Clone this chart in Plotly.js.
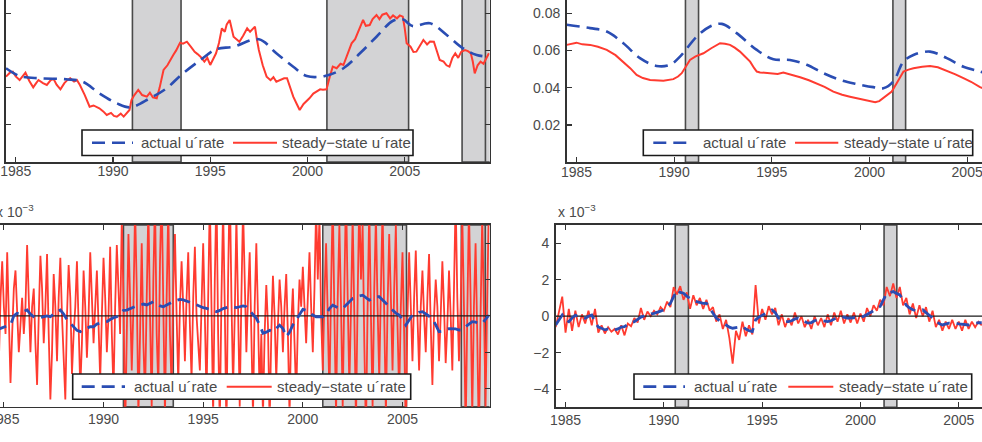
<!DOCTYPE html>
<html>
<head>
<meta charset="utf-8">
<script src="https://cdn.plot.ly/plotly-3.0.1.min.js"></script>
<style>
  html, body { margin: 0; padding: 0; width: 982px; height: 442px; overflow: hidden; background: #fff; }
  #fig { position: absolute; left: -20px; top: -40px; width: 1100px; height: 470px; }
</style>
</head>
<body>
<div id="fig"></div>
<script>
// ---------------- data ----------------
const seriesNames = ['actual u\u00B4rate', 'steady\u2212state u\u00B4rate'];
const yearTicks = [1985, 1990, 1995, 2000, 2005];
const xRange = [1984.5, 2009.37];
const sampleEnd = 2009.15;
const zeroLevel = 0;

// shaded periods
const recessionsLeft = [[1991.0, 1993.5], [2001.0, 2005.2], [2007.95, 2009.5]];
const recessionsRight = [[1990.58, 1991.25], [2001.2, 2001.85], [2007.92, 2009.5]];

// panel 1 (upper left)
const p1ActualYears = [1984.5, 1985.2, 1986.25, 1987.6, 1988.45, 1989.3, 1990.2, 1990.88, 1991.9, 1992.76,
  1993.5, 1994.5, 1995.3, 1996.2, 1997.5, 1998.4, 1999.27, 1999.96, 2000.9, 2001.85,
  2002.7, 2003.55, 2004.4, 2004.9, 2005.4, 2006.3, 2007.16, 2008.0, 2008.7, 2009.33];
const p1Actual = [0.02760, 0.02656, 0.02625, 0.02612, 0.02579, 0.02423, 0.02289, 0.02235, 0.02356, 0.02491,
  0.02669, 0.02871, 0.03015, 0.03050, 0.03149, 0.02961, 0.02781, 0.02656, 0.02656, 0.02760,
  0.02961, 0.03184, 0.03399, 0.03418, 0.03328, 0.03364, 0.03207, 0.03028, 0.02938, 0.02915];

const p1SteadyYears = [1984.50, 1984.70, 1984.85, 1985.00, 1985.20, 1985.35, 1985.50, 1985.70, 1985.90, 1986.05,
  1986.17, 1986.40, 1986.60, 1986.80, 1986.95, 1987.10, 1987.30, 1987.50, 1987.65, 1987.80,
  1988.00, 1988.15, 1988.30, 1988.55, 1988.80, 1989.00, 1989.30, 1989.50, 1989.68, 1989.90,
  1990.05, 1990.20, 1990.40, 1990.55, 1990.70, 1990.85, 1990.95, 1991.10, 1991.30, 1991.50,
  1991.74, 1991.90, 1992.05, 1992.25, 1992.40, 1992.60, 1992.80, 1992.95, 1993.10, 1993.25,
  1993.45, 1993.60, 1993.80, 1994.00, 1994.20, 1994.35, 1994.50, 1994.70, 1994.85, 1995.00,
  1995.15, 1995.30, 1995.45, 1995.60, 1995.75, 1995.85, 1996.00, 1996.10, 1996.20, 1996.35,
  1996.50, 1996.70, 1996.90, 1997.05, 1997.20, 1997.30, 1997.40, 1997.50, 1997.70, 1997.90,
  1998.10, 1998.25, 1998.40, 1998.60, 1998.80, 1998.95, 1999.10, 1999.27, 1999.45, 1999.60,
  1999.80, 2000.00, 2000.10, 2000.30, 2000.50, 2000.65, 2000.80, 2000.98, 2001.15, 2001.30,
  2001.50, 2001.70, 2001.85, 2002.05, 2002.27, 2002.45, 2002.60, 2002.75, 2002.86, 2003.00,
  2003.20, 2003.35, 2003.55, 2003.70, 2003.85, 2004.06, 2004.25, 2004.40, 2004.60, 2004.75,
  2004.90, 2005.00, 2005.10, 2005.30, 2005.45, 2005.60, 2005.80, 2005.96, 2006.15, 2006.30,
  2006.50, 2006.65, 2006.80, 2007.00, 2007.15, 2007.30, 2007.45, 2007.60, 2007.75, 2007.90,
  2008.10, 2008.25, 2008.40, 2008.50, 2008.60, 2008.75, 2008.90, 2009.05, 2009.20, 2009.33];
const p1Steady = [0.02647, 0.02700, 0.02714, 0.02650, 0.02602, 0.02660, 0.02700, 0.02590, 0.02504, 0.02560,
  0.02602, 0.02560, 0.02535, 0.02600, 0.02616, 0.02540, 0.02477, 0.02560, 0.02600, 0.02625,
  0.02580, 0.02600, 0.02535, 0.02400, 0.02243, 0.02260, 0.02222, 0.02180, 0.02132, 0.02160,
  0.02120, 0.02109, 0.02150, 0.02110, 0.02155, 0.02200, 0.02333, 0.02400, 0.02468, 0.02400,
  0.02378, 0.02430, 0.02370, 0.02356, 0.02500, 0.02737, 0.02800, 0.02880, 0.02938, 0.03000,
  0.03104, 0.03090, 0.03117, 0.03050, 0.02980, 0.02950, 0.02915, 0.02850, 0.02900, 0.02804,
  0.02880, 0.02961, 0.03100, 0.03297, 0.03250, 0.03350, 0.03409, 0.03300, 0.03184, 0.03150,
  0.03117, 0.03200, 0.03297, 0.03250, 0.03300, 0.03319, 0.03150, 0.03005, 0.02800, 0.02647,
  0.02600, 0.02640, 0.02579, 0.02600, 0.02625, 0.02625, 0.02500, 0.02378, 0.02280, 0.02199,
  0.02280, 0.02330, 0.02356, 0.02420, 0.02450, 0.02477, 0.02470, 0.02477, 0.02650, 0.02781,
  0.02760, 0.02820, 0.02804, 0.02950, 0.03095, 0.03150, 0.03250, 0.03350, 0.03409, 0.03330,
  0.03341, 0.03420, 0.03476, 0.03420, 0.03480, 0.03499, 0.03430, 0.03470, 0.03431, 0.03470,
  0.03453, 0.03300, 0.03095, 0.03050, 0.02980, 0.02983, 0.03080, 0.03140, 0.03080, 0.03120,
  0.03117, 0.03000, 0.02871, 0.02850, 0.02800, 0.02781, 0.02900, 0.02961, 0.02900, 0.02980,
  0.03005, 0.02990, 0.02961, 0.02850, 0.02692, 0.02800, 0.02848, 0.02820, 0.02900, 0.02961];
const p1Ticks = [0.02, 0.025, 0.03, 0.035];

// panel 2 (upper right)
const p2ActualYears = [1984.5, 1985.7, 1986.55, 1987.4, 1988.25, 1989.1, 1989.79, 1990.3, 1991.16, 1991.84,
  1992.44, 1993.2, 1994.23, 1995.08, 1995.93, 1996.79, 1997.64, 1998.49, 1999.35, 2000.2,
  2000.71, 2001.22, 2001.74, 2002.25, 2003.1, 2003.96, 2004.81, 2005.66, 2006.2];
const p2Actual = [0.0738, 0.0720, 0.0702, 0.0639, 0.0559, 0.0517, 0.0523, 0.0567, 0.0675, 0.0729,
  0.0743, 0.0693, 0.0603, 0.0553, 0.0549, 0.0523, 0.0478, 0.0442, 0.0420, 0.0403,
  0.0397, 0.0433, 0.0540, 0.0576, 0.0594, 0.0559, 0.0513, 0.0487, 0.0470];
const p2SteadyYears = [1984.5, 1984.75, 1985.0, 1985.3, 1985.7, 1986.1, 1986.55, 1987.0, 1987.4, 1987.75,
  1988.08, 1988.4, 1988.77, 1989.1, 1989.45, 1989.96, 1990.2, 1990.39, 1990.6, 1990.81,
  1991.1, 1991.5, 1991.9, 1992.35, 1992.6, 1992.86, 1993.1, 1993.37, 1993.6, 1993.89,
  1994.1, 1994.23, 1994.4, 1994.57, 1994.8, 1995.1, 1995.3, 1995.59, 1996.0, 1996.45,
  1996.9, 1997.3, 1997.7, 1998.15, 1998.6, 1999.0, 1999.4, 1999.86, 2000.1, 2000.29,
  2000.5, 2000.71, 2000.95, 2001.14, 2001.4, 2001.74, 2002.0, 2002.25, 2002.7, 2003.1,
  2003.5, 2003.96, 2004.4, 2004.81, 2005.2, 2005.66, 2006.2];
const p2Steady = [0.0630, 0.0638, 0.0642, 0.0633, 0.0630, 0.0620, 0.0603, 0.0575, 0.0540, 0.0505,
  0.0469, 0.0452, 0.0442, 0.0438, 0.0437, 0.0446, 0.0460, 0.0478, 0.0515, 0.0549,
  0.0568, 0.0585, 0.0612, 0.0639, 0.0636, 0.0630, 0.0615, 0.0594, 0.0570, 0.0540,
  0.0505, 0.0487, 0.0482, 0.0481, 0.0477, 0.0479, 0.0474, 0.0481, 0.0470, 0.0456,
  0.0440, 0.0424, 0.0405, 0.0379, 0.0362, 0.0352, 0.0343, 0.0331, 0.0326, 0.0322,
  0.0328, 0.0344, 0.0360, 0.0379, 0.0425, 0.0487, 0.0497, 0.0505, 0.0513, 0.0517,
  0.0510, 0.0492, 0.0472, 0.0451, 0.0432, 0.0403, 0.0380];
const p2Ticks = [0.02, 0.04, 0.06, 0.08];

// panel 3 (lower left), in units of 10^-3; actual bimonthly, steady-state monthly, from mid-1984
const p3Start = 1984.5;
const p3Actual = [
  -0.70, -0.75, -0.69,
  -0.60, -0.55, -0.51, 0.00, 0.14, 0.10,
  0.25, 0.32, 0.10, -0.05, -0.14, -0.10,
  -0.05, 0.00, -0.05, 0.10, 0.25, 0.32,
  0.10, -0.20, -0.41, -0.60, -0.80, -0.87,
  -0.75, -0.68, -0.60, -0.60, -0.45, -0.40,
  -0.35, -0.32, -0.20, -0.10, -0.05, 0.15,
  0.30, 0.32, 0.40, 0.50, 0.55, 0.59,
  0.65, 0.60, 0.70, 0.78, 0.65, 0.55,
  0.50, 0.60, 0.70, 0.78, 0.85, 0.91,
  0.88, 0.80, 0.75, 0.69, 0.60, 0.50,
  0.45, 0.41, 0.35, 0.25, 0.23, 0.30,
  0.40, 0.45, 0.50, 0.50, 0.45, 0.50,
  0.55, 0.50, 0.30, 0.10, -0.14, -0.50,
  -0.96, -0.90, -0.80, -0.87, -0.70, -0.51,
  -0.70, -1.15, -0.90, -0.50, -0.23, 0.10,
  0.36, 0.30, 0.15, 0.04, -0.05, -0.05,
  -0.05, 0.10, 0.40, 0.59, 0.50, 0.41,
  0.41, 0.60, 0.80, 0.96, 1.00, 1.10,
  1.14, 1.00, 0.87, 0.95, 1.05, 1.05,
  0.90, 0.70, 0.50, 0.30, 0.15, 0.04,
  -0.20, -0.51, -0.20, 0.04, 0.10, 0.20,
  0.23, 0.10, -0.05, -0.14, -0.50, -0.87,
  -0.85, -0.75, -0.70, -0.69, -0.72, -0.78,
  -0.78, -0.60, -0.45, -0.32, -0.35, -0.41,
  -0.41, -0.20, 0.04];
const p3Steady = [
  0.5, 2.0, -1.5, -2.5, 1.0, 3.0,
  0.5, -1.0, 3.5, -0.5, -3.7, -1.0, 1.5, 2.5, 0.0, -2.0, -0.5, 1.0,
  -1.0, 0.5, 3.9, 1.0, -2.0, 0.5, 1.5, -1.5, -3.8, 0.0, 3.3, 1.5,
  -1.5, 0.5, 3.4, -1.0, -4.6, -2.0, 2.3, 0.5, -2.5, 1.0, 3.2, 0.0,
  -2.0, -4.6, 0.0, 2.8, 1.0, -3.2, -1.0, 0.5, 3.0, -0.5, -4.0, -1.5,
  2.5, 0.5, -2.3, 0.0, 3.5, 1.0, -1.5, 0.5, 2.5, -0.5, -3.5, 0.0,
  3.2, 1.0, -2.0, 0.0, 3.8, -1.0, -4.2, 0.5, 3.9, 1.5, -1.0, 5.5,
  1.0, -6.5, -2.0, 4.5, 1.0, -3.0, 0.5, 6.0, 1.5, -5.5, -1.0, 4.0,
  -1.5, -4.5, 1.0, 6.0, 0.0, -5.0, 2.0, 6.5, -1.0, -4.0, 3.0, 7.0,
  0.5, -5.5, 1.0, 6.0, -1.0, -4.0, 1.5, 4.5, 0.0, -3.7, 0.5, 3.0,
  0.5, -2.5, 1.0, 3.5, -0.5, -3.5, 1.0, 3.8, 0.0, -1.5, -3.0, 0.5,
  4.0, 0.0, -4.5, 1.0, 6.5, 0.5, -5.5, 2.0, 7.0, -1.0, -6.0, 1.0,
  6.0, 0.5, -6.5, 2.0, 7.5, 1.0, -4.0, 0.0, 5.5, 0.5, -5.0, 1.0,
  6.0, 2.0, -2.0, 1.0, 3.5, -1.0, -5.5, 0.5, 4.0, 0.0, -4.5, -1.0,
  -5.5, -1.0, 1.7, -0.5, -6.0, -1.0, 2.2, 0.0, -3.5, -0.5, 2.0, 0.5,
  -2.0, 0.5, 2.3, -1.0, -5.5, -0.5, 1.5, -1.5, -4.5, -0.5, 2.0, 0.5,
  2.7, 0.5, -1.5, 1.0, 3.5, 0.5, -2.0, 1.5, 6.0, 2.0, 5.5, 0.0,
  -3.0, 1.0, 4.0, 0.0, -4.5, 1.5, 6.5, 0.0, -5.5, 1.0, 5.0, 0.5,
  -5.0, 1.5, 7.0, 1.0, -4.0, 0.5, 5.5, 0.0, -6.0, 1.0, 6.5, 2.0,
  5.0, -1.5, -6.5, 0.5, 6.0, 0.0, -5.0, 1.5, 5.5, 0.5, -3.5, 1.5,
  6.0, 0.0, -5.5, 0.5, 4.5, 1.0, -3.0, 1.5, 5.0, -0.5, -4.5, 0.5,
  3.5, -1.0, -6.5, 0.0, 3.5, 0.5, -2.5, 1.0, 3.6, 0.0, -3.0, 0.5,
  2.5, 0.0, -2.0, 1.0, 3.4, -0.5, -3.8, 0.0, 2.0, 0.5, -2.5, 0.0,
  3.0, 0.5, -2.6, -0.5, 2.5, 0.0, -3.0, 1.5, 6.5, 1.0, -2.5, 0.5,
  5.5, 0.5, -6.5, 0.0, 6.0, 1.0, -5.5, 0.5, 4.0, -1.0, -7.0, 0.0,
  5.5, 0.5, -5.0, 1.0, 6.0];

// panel 4 (lower right), in units of 10^-3; bimonthly from mid-1984
const p4Start = 1984.5;
const p4Actual = [
  -0.48, -0.20, 0.07,
  -0.20, -0.30, -0.10, 0.05, -0.05, -0.10,
  -0.11, 0.00, 0.07, -0.30, -0.60, -0.66,
  -0.75, -0.70, -0.78, -0.75, -0.70, -0.60,
  -0.57, -0.45, -0.35, -0.30, -0.15, -0.05,
  0.02, 0.05, 0.12, 0.16, 0.20, 0.28,
  0.35, 0.50, 0.71, 1.10, 1.44, 1.30,
  1.26, 1.10, 0.99, 0.85, 0.80, 0.75,
  0.70, 0.71, 0.45, 0.16, -0.10, -0.25,
  -0.38, -0.50, -0.60, -0.66, -0.62, -0.57,
  -0.57, -0.70, -0.80, -0.84, -0.20, -0.05,
  0.07, 0.15, 0.25, 0.35, 0.20, -0.11,
  -0.20, -0.30, -0.30, -0.25, -0.15, -0.11,
  -0.20, -0.30, -0.38, -0.35, -0.25, -0.20,
  -0.22, -0.28, -0.30, -0.25, -0.15, -0.05,
  -0.02, -0.06, -0.11, -0.10, -0.08, -0.11,
  -0.10, 0.00, 0.10, 0.16, 0.30, 0.45,
  0.53, 0.90, 1.26, 1.30, 1.35, 1.25,
  1.17, 0.90, 0.60, 0.45, 0.35, 0.30,
  0.33, 0.35, 0.20, 0.05, -0.11, -0.30,
  -0.40, -0.48, -0.42, -0.38, -0.40, -0.38,
  -0.42, -0.45, -0.48, -0.48, -0.42, -0.38,
  -0.36, -0.36];
const p4Steady = [
  -0.60, 0.20, 1.07,
  -0.90, 0.40, -0.80, 0.30, -0.60, 0.10,
  -0.40, 0.30, -0.50, 0.40, -0.90, -0.50,
  -0.95, -0.60, -0.85, -0.70, -1.00, -0.50,
  -1.05, -0.40, -0.55, -0.10, -0.35, 0.45,
  -0.20, 0.25, 0.00, 0.30, 0.10, 0.50,
  0.30, 0.80, 0.50, 1.60, 1.20, 1.65,
  0.90, 1.30, 0.40, 1.15, 0.60, 1.00,
  0.40, 0.90, 0.30, 0.50, -0.30, 0.10,
  -0.70, -0.20, -1.20, -2.60, -0.80, -1.30,
  -0.30, -1.10, -0.50, -1.00, 1.71, -0.40,
  0.40, -0.20, 0.55, 0.10, 0.45, -0.50,
  0.10, -0.60, -0.10, -0.50, 0.20, -0.40,
  0.00, -0.60, -0.20, -0.70, 0.00, -0.50,
  -0.10, -0.60, 0.10, -0.50, 0.20, -0.30,
  0.30, -0.40, 0.10, -0.35, 0.20, -0.40,
  0.15, -0.30, 0.45, 0.00, 0.60, 0.30,
  0.90, 0.60, 1.60, 1.10, 1.80, 1.00,
  1.60, 0.60, 1.00, 0.10, 0.70, -0.10,
  0.60, 0.00, 0.50, -0.30, 0.30, -0.60,
  -0.20, -0.80, -0.30, -0.70, -0.20, -0.70,
  -0.30, -0.80, -0.20, -0.70, -0.30, -0.60,
  -0.30, -0.50];
const smallTicks = [-4, -2, 0, 2, 4];

// ---------------- drawing ----------------
const BLUE = '#2a4db3';
const RED = '#ff3b30';
const FONT = '"Liberation Sans", Arial, Helvetica, sans-serif';
const TXT = '#4a4a4a';
const AX = '#333333';

// figure canvas (the page shows the window from (0,0) to (982,442))
const OX = -20, OY = -40, W = 1100, H = 470;
const px = x => (x - OX) / W;
const py = y => 1 - (y - OY) / H;

// panel frames in page pixels: [left, right, top, bottom]
const frames = [
  [6, 489.7, -24, 162],
  [566.7, 1052.5, -24, 162.2],
  [-6.1, 489.6, 225, 406.7],
  [555.7, 1044.7, 225, 407.4]
];
// year-label offset per panel
const xLabelStandoff = [-4, -4, -1, -1];

// legend boxes: box [l, r, t, b], blue sample [x0, x1], text x, red sample [x0, x1], text x
const legends = [
  { box: [82, 413, 130, 155.5], s1: [92, 133], t1: 140, s2: [233, 277], t2: 281 },
  { box: [643.3, 972.7, 130, 155.5], s1: [653.3, 693.3], t1: 701.5, s2: [795, 838.3], t2: 843 },
  { box: [72.7, 410.7, 374, 399.3], s1: [81.7, 125], t1: 132.5, s2: [226.7, 271.7], t2: 276 },
  { box: [634, 971.7, 374, 399.3], s1: [643.3, 685], t1: 693, s2: [788.3, 833.3], t2: 837.5 }
];

const dashBlue = '13px,7px';
const zeroLine = (xa, ya) => ({ x: xRange, y: [zeroLevel, zeroLevel], xaxis: xa, yaxis: ya, mode: 'lines', line: { color: '#1a1a1a', width: 1.3 } });

const traces = [
  // panel 1
  { x: p1SteadyYears, y: p1Steady, xaxis: 'x', yaxis: 'y', mode: 'lines', line: { color: RED, width: 2 } },
  { x: p1ActualYears, y: p1Actual, xaxis: 'x', yaxis: 'y', mode: 'lines', line: { color: BLUE, width: 2.6, dash: dashBlue, shape: 'spline', smoothing: 1 } },
  // panel 2
  { x: p2SteadyYears, y: p2Steady, xaxis: 'x2', yaxis: 'y2', mode: 'lines', line: { color: RED, width: 2 } },
  { x: p2ActualYears, y: p2Actual, xaxis: 'x2', yaxis: 'y2', mode: 'lines', line: { color: BLUE, width: 2.6, dash: dashBlue, shape: 'spline', smoothing: 1 } },
  // panel 3
  { x0: p3Start, dx: 1 / 12, y: p3Steady, xaxis: 'x3', yaxis: 'y3', mode: 'lines', line: { color: RED, width: 1.8 } },
  zeroLine('x3', 'y3'),
  { x0: p3Start, dx: 1 / 6, y: p3Actual, xaxis: 'x3', yaxis: 'y3', mode: 'lines', line: { color: BLUE, width: 2.8, dash: dashBlue } },
  // panel 4
  { x0: p4Start, dx: 1 / 6, y: p4Steady, xaxis: 'x4', yaxis: 'y4', mode: 'lines', line: { color: RED, width: 1.8 } },
  zeroLine('x4', 'y4'),
  { x0: p4Start, dx: 1 / 6, y: p4Actual, xaxis: 'x4', yaxis: 'y4', mode: 'lines', line: { color: BLUE, width: 2.8, dash: dashBlue } }
].map(t => Object.assign(t, { showlegend: false, hoverinfo: 'skip' }));

const axBase = {
  showline: true, linecolor: AX, linewidth: 1.6, mirror: 'ticks',
  ticks: 'inside', ticklen: 5, tickwidth: 1.2, tickcolor: AX,
  showgrid: false, zeroline: false, fixedrange: true,
  tickfont: { family: FONT, size: 14, color: TXT }
};

function xAxis(i, anchor) {
  const f = frames[i];
  return Object.assign({}, axBase, {
    domain: [px(f[0]), px(f[1])], anchor: anchor, range: xRange,
    tickvals: yearTicks, ticktext: yearTicks.map(String), ticklabelstandoff: xLabelStandoff[i]
  });
}
function yAxis(i, anchor, range, ticks) {
  const f = frames[i];
  return Object.assign({}, axBase, {
    domain: [py(f[3]), py(f[2])], anchor: anchor, range: range,
    tickvals: ticks, ticktext: ticks.map(v => (v < 0 ? '\u2212' : '') + String(Math.abs(v))),
    ticklabelstandoff: 2
  });
}

const shapes = [];
function addRecessions(periods, xr, yr, endLine) {
  periods.forEach(p => shapes.push({
    type: 'rect', xref: xr, yref: yr + ' domain', x0: p[0], x1: p[1], y0: 0, y1: 1,
    fillcolor: '#d3d3d5', line: { color: '#4a4a4a', width: 1.6 }, layer: 'below'
  }));
  if (endLine) shapes.push({
    type: 'line', xref: xr, yref: yr + ' domain', x0: sampleEnd, x1: sampleEnd, y0: 0, y1: 1,
    line: { color: '#4a4a4a', width: 1.6 }, layer: 'below'
  });
}
addRecessions(recessionsLeft, 'x', 'y', true);
addRecessions(recessionsRight, 'x2', 'y2', false);
addRecessions(recessionsLeft, 'x3', 'y3', true);
addRecessions(recessionsRight, 'x4', 'y4', false);

const annotations = [];
legends.forEach(L => {
  const yc = (L.box[2] + L.box[3]) / 2;
  shapes.push({
    type: 'rect', xref: 'paper', yref: 'paper',
    x0: px(L.box[0]), x1: px(L.box[1]), y0: py(L.box[3]), y1: py(L.box[2]),
    fillcolor: '#ffffff', line: { color: '#1a1a1a', width: 1.6 }, layer: 'above'
  });
  shapes.push({
    type: 'line', xref: 'paper', yref: 'paper', x0: px(L.s1[0]), x1: px(L.s1[1]), y0: py(yc), y1: py(yc),
    line: { color: BLUE, width: 2.6, dash: dashBlue }, layer: 'above'
  });
  shapes.push({
    type: 'line', xref: 'paper', yref: 'paper', x0: px(L.s2[0]), x1: px(L.s2[1]), y0: py(yc), y1: py(yc),
    line: { color: RED, width: 2 }, layer: 'above'
  });
  [[L.t1, seriesNames[0]], [L.t2, seriesNames[1]]].forEach(t => annotations.push({
    xref: 'paper', yref: 'paper', x: px(t[0]), y: py(yc), xanchor: 'left', yanchor: 'middle',
    text: t[1], showarrow: false, font: { family: FONT, size: 15, color: TXT }, borderpad: 0
  }));
});

// exponent labels above the two lower panels
[['x3', 'y3'], ['x4', 'y4']].forEach(a => annotations.push({
  xref: a[0] + ' domain', yref: a[1] + ' domain', x: 0, y: 1, xanchor: 'left', yanchor: 'bottom',
  yshift: 3, text: 'x 10<sup>\u22123</sup>', showarrow: false, font: { family: FONT, size: 14, color: TXT }
}));

const layout = {
  width: W, height: H, autosize: false,
  margin: { l: 0, r: 0, t: 0, b: 0, pad: 0 },
  paper_bgcolor: '#ffffff', plot_bgcolor: '#ffffff',
  showlegend: false,
  xaxis: xAxis(0, 'y'), yaxis: yAxis(0, 'x', [0.015, 0.04], p1Ticks),
  xaxis2: xAxis(1, 'y2'), yaxis2: yAxis(1, 'x2', [0, 0.1], p2Ticks),
  xaxis3: xAxis(2, 'y3'), yaxis3: yAxis(2, 'x3', [-5, 5], smallTicks),
  xaxis4: xAxis(3, 'y4'), yaxis4: yAxis(3, 'x4', [-5, 5], smallTicks),
  shapes: shapes, annotations: annotations
};

Plotly.newPlot('fig', traces, layout, { staticPlot: true, displayModeBar: false });
</script>
</body>
</html>
